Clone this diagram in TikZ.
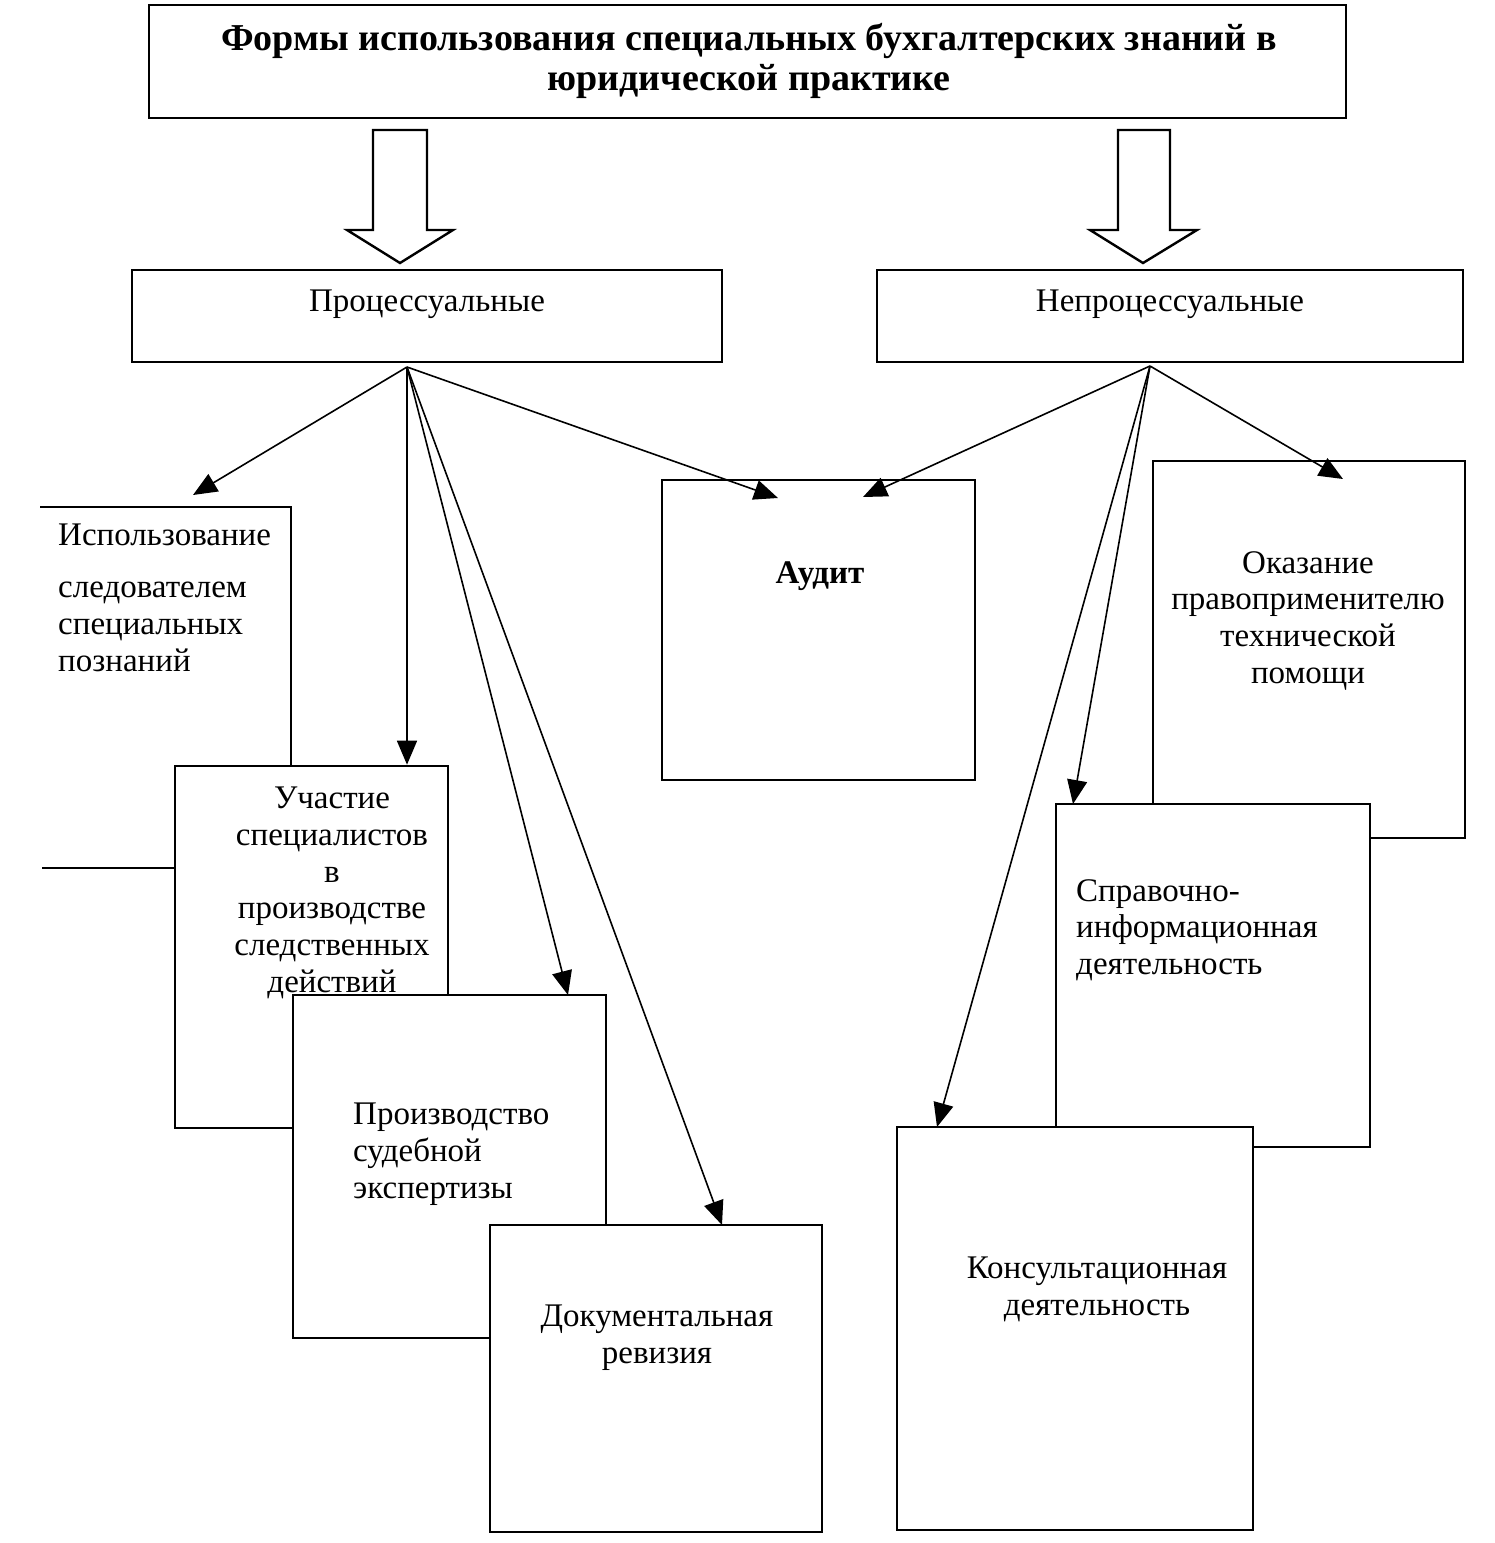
\documentclass[tikz,border=0pt]{standalone}
\usepackage{fontspec}
\setmainfont{Liberation Serif}
\usetikzlibrary{arrows.meta}
\begin{document}
\begin{tikzpicture}[x=1pt,y=-1pt,
  box/.style={draw,line width=2.6pt,fill=white,inner sep=0pt},
  edge/.style={line width=2.6pt},
  blockarrow/.style={draw,line width=2.4pt,fill=white,line join=miter},
  txt/.style={font=\fontsize{33}{36.7}\selectfont,inner sep=0pt,align=center},
  ltxt/.style={font=\fontsize{33}{36.7}\selectfont,inner sep=0pt,align=left},
  ttl/.style={font=\fontsize{38}{40}\selectfont\bfseries,inner sep=0pt,anchor=mid},
  conn/.style={line width=1.6pt,-{Triangle[length=24pt,width=20pt]}}
]
\useasboundingbox (0,0) rectangle (1495,1543);
\fill[white] (0,0) rectangle (1495,1543);

% title
\node[box,minimum width=1197pt,minimum height=113pt] (title) at (747.5,61.5) {};
\node[ttl] (titletext) at (749,48) {Формы использования специальных бухгалтерских знаний в};
\node[ttl] (titletext2) at (749,88) {юридической практике};

% block arrows
\draw[blockarrow] (373,130) -- (427,130) -- (427,230) -- (453,230) -- (400,263) -- (347,230) -- (373,230) -- cycle;
\draw[blockarrow] (1118,130) -- (1170,130) -- (1170,230) -- (1197,230) -- (1143,263) -- (1090,230) -- (1118,230) -- cycle;

% second level
\node[box,minimum width=590pt,minimum height=92pt] (proc) at (427,316) {};
\node[txt,anchor=mid] (proctext) at (427,309) {Процессуальные};
\node[box,minimum width=586pt,minimum height=92pt] (nonproc) at (1170,316) {};
\node[txt,anchor=mid] (nonproctext) at (1170,309) {Непроцессуальные};

% open frame "Использование"
\coordinate (isA) at (40,507);
\coordinate (isB) at (291,507);
\coordinate (isC) at (291,766);
\draw[edge] (isA) -- (isB) -- (isC);
\coordinate (lnA) at (42,868);
\coordinate (lnB) at (175,868);
\draw[line width=2pt] (lnA) -- (lnB);

% left column boxes
\node[box,minimum width=273pt,minimum height=362pt] (ucha) at (311.5,947) {};
\node[box,minimum width=313pt,minimum height=343pt] (proiz) at (449.5,1166.5) {};
\node[box,minimum width=332pt,minimum height=307pt] (dok) at (656,1378.5) {};

% audit
\node[box,minimum width=313pt,minimum height=300pt] (audit) at (818.5,630) {};

% right column boxes
\node[box,minimum width=312pt,minimum height=377pt] (okaz) at (1309,649.5) {};
\node[box,minimum width=314pt,minimum height=343pt] (sprav) at (1213,975.5) {};
\node[box,minimum width=356pt,minimum height=403pt] (kons) at (1075,1328.5) {};

% texts
\node[ltxt,anchor=mid west] (istext1) at (58,543) {Использование};
\node[ltxt,anchor=north west] (istext2) at (58,582) {следователем\\специальных\\познаний};

\node[txt,anchor=north] (uchatext) at (332,787) {Участие\\специалистов\\в\\производстве\\следственных\\действий};
\node[ltxt,anchor=north west] (proiztext) at (353,1103) {Производство\\судебной\\экспертизы};
\node[txt,anchor=north] (doktext) at (657,1305) {Документальная\\ревизия};
\node[txt,anchor=mid,font=\fontsize{33}{37}\selectfont\bfseries] (audittext) at (820,581) {Аудит};
\node[txt,anchor=north] (okaztext) at (1308,551) {Оказание\\правоприменителю\\технической\\помощи};
\node[ltxt,anchor=north west] (spravtext) at (1076,879) {Справочно-\\информационная\\деятельность};
\node[txt,anchor=north] (konstext) at (1097,1257) {Консультационная\\деятельность};

% connectors
\coordinate (ps) at (407,367);
\coordinate (ns) at (1150,366);
\coordinate (tIs) at (193,495);
\coordinate (tAuL) at (778,498);
\coordinate (tAuR) at (863,497);
\coordinate (tOk) at (1343,479);
\draw[conn] (ps) -- (tIs);
\draw[conn] (ps) -- (ucha.north -| ps);
\draw[conn] (ps) -- (568,995);
\draw[conn] (ps) -- (722,1225);
\draw[conn] (ps) -- (tAuL);
\draw[conn] (ns) -- (tAuR);
\draw[conn] (ns) -- (tOk);
\draw[conn] (ns) -- (1073,804);
\draw[conn] (ns) -- (937,1127);
\end{tikzpicture}
\end{document}
